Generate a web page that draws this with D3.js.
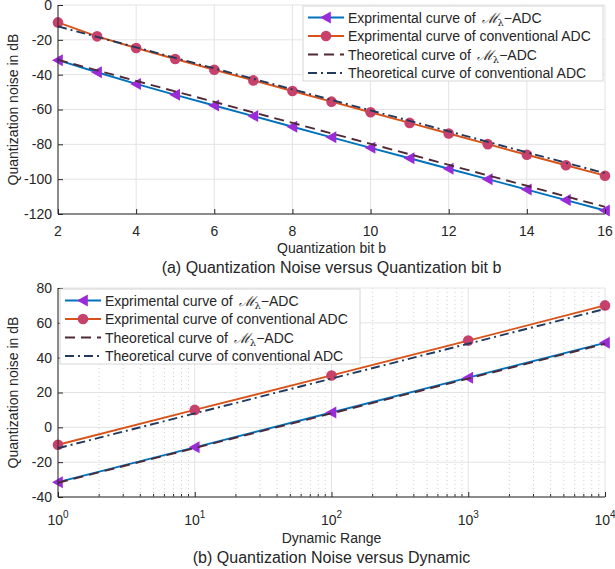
<!DOCTYPE html>
<html>
<head>
<meta charset="utf-8">
<script src="https://cdn.jsdelivr.net/npm/d3@7"></script>
<style>
  body { margin: 0; background: #fff; }
  text { font-family: "Liberation Sans", Arial, sans-serif; fill: #262626; }
</style>
</head>
<body>
<div id="chart-area"></div>
<script>
// Panel (a): noise vs quantization bit
var bits = [2, 3, 4, 5, 6, 7, 8, 9, 10, 11, 12, 13, 14, 15, 16];
var expM_a = [-31.7, -38.6, -45.3, -51.6, -57.7, -63.8, -69.9, -76.0, -82.0, -88.0, -94.0, -100.0, -106.0, -112.0, -118.0];
var expConv_a = [-10.0, -18.0, -24.7, -31.0, -37.2, -43.3, -49.4, -55.5, -61.6, -67.7, -73.8, -79.9, -86.0, -92.0, -98.0];
var theoM_a = [-31.5, -37.5, -43.6, -49.6, -55.6, -61.7, -67.7, -73.7, -79.7, -85.7, -91.8, -97.8, -103.8, -109.9, -115.9];
var theoConv_a = [-12.3, -18.3, -24.3, -30.4, -36.4, -42.4, -48.4, -54.5, -60.5, -66.5, -72.5, -78.6, -84.6, -90.6, -96.6];
var xTicks_a = [2, 4, 6, 8, 10, 12, 14, 16];
var yTicks_a = [0, -20, -40, -60, -80, -100, -120];

// Panel (b): noise vs dynamic range
var ranges = [1, 10, 100, 1000, 10000];
var expM_b = [-31.5, -11.5, 8.5, 28.5, 48.5];
var expConv_b = [-10.0, 10.0, 29.8, 49.8, 70.0];
var theoM_b = [-31.8, -11.9, 8.0, 28.0, 48.0];
var theoConv_b = [-12.0, 8.0, 28.0, 48.0, 68.0];
var xTicks_b = [1, 10, 100, 1000, 10000];
var yTicks_b = [80, 60, 40, 20, 0, -20, -40];

var legendLabels = [
    ["Exprimental curve of ", true],
    ["Exprimental curve of conventional ADC", false],
    ["Theoretical curve of ", true],
    ["Theoretical curve of conventional ADC", false]
];

var colBlue = "#0072BD", colOrange = "#D95319",
    colTri = "#9B2BD6", colDot = "#C8416B",
    colDash = "#4F2A36", colDashDot = "#213A5E",
    axisCol = "#262626", gridCol = "#e3e3e3";

var svg = d3.select("#chart-area")
    .append("svg")
    .attr("width", 615)
    .attr("height", 569);

function triangle(g, x, y) {
    var s = 6;
    g.append("path")
        .attr("d", "M" + (x - s) + "," + y + "L" + (x + s * 0.8) + "," + (y - s) + "L" + (x + s * 0.8) + "," + (y + s) + "Z")
        .attr("fill", colTri);
}

function dot(g, x, y) {
    g.append("circle")
        .attr("cx", x).attr("cy", y).attr("r", 5.3)
        .attr("fill", colDot);
}

// series: [values, color, dash, marker]
function drawPanel(box, x, y, xs, series, xTicks, yTicks, isLog) {
    var g = svg.append("g");

    // minor grid (log only)
    if (isLog) {
        var minors = [];
        xTicks.slice(0, -1).forEach(function(d){
            for (var k = 2; k <= 9; k++) minors.push(d * k);
        });
        g.selectAll(".mgrid").data(minors).enter().append("line")
            .attr("x1", function(d){ return x(d); }).attr("x2", function(d){ return x(d); })
            .attr("y1", box.top).attr("y2", box.bottom)
            .attr("stroke", "#d0d0d0").attr("stroke-width", 1)
            .attr("stroke-dasharray", "1,3");
        g.selectAll(".mtick").data(minors).enter().append("line")
            .attr("x1", function(d){ return x(d); }).attr("x2", function(d){ return x(d); })
            .attr("y1", box.bottom).attr("y2", box.bottom - 3)
            .attr("stroke", axisCol);
    }

    // major grid
    g.selectAll(".vgrid").data(xTicks).enter().append("line")
        .attr("x1", function(d){ return x(d); }).attr("x2", function(d){ return x(d); })
        .attr("y1", box.top).attr("y2", box.bottom)
        .attr("stroke", gridCol);
    g.selectAll(".hgrid").data(yTicks).enter().append("line")
        .attr("x1", box.left).attr("x2", box.right)
        .attr("y1", function(d){ return y(d); }).attr("y2", function(d){ return y(d); })
        .attr("stroke", gridCol);

    // curves
    series.forEach(function(s){
        var line = d3.line()
            .x(function(d, i){ return x(xs[i]); })
            .y(function(d){ return y(d); });
        g.append("path")
            .datum(s[0])
            .attr("d", line)
            .attr("fill", "none")
            .attr("stroke", s[1])
            .attr("stroke-width", 1.9)
            .attr("stroke-dasharray", s[2]);
        if (s[3] === "tri") s[0].forEach(function(d, i){ triangle(g, x(xs[i]), y(d)); });
        if (s[3] === "dot") s[0].forEach(function(d, i){ dot(g, x(xs[i]), y(d)); });
    });

    // axes
    var xAxis = d3.axisBottom(x).tickValues(xTicks).tickSize(-5).tickPadding(10).tickFormat("");
    var yAxis = d3.axisLeft(y).tickValues(yTicks).tickSize(-5).tickPadding(4)
        .tickFormat(function(d){ return d < 0 ? "-" + Math.abs(d) : d; });

    var xg = g.append("g")
        .attr("transform", "translate(0," + box.bottom + ")")
        .call(xAxis);
    var yg = g.append("g")
        .attr("transform", "translate(" + box.left + ",0)")
        .call(yAxis);
    [xg, yg].forEach(function(a){
        a.select(".domain").attr("stroke", axisCol).attr("d",
            a === xg ? "M" + box.left + ",0H" + box.right : "M0," + box.top + "V" + box.bottom);
        a.selectAll(".tick line").attr("stroke", axisCol);
        a.selectAll("text").style("font-size", "14px").attr("fill", axisCol)
            .style("font-family", "Liberation Sans, Arial, sans-serif");
    });
    yg.selectAll(".tick text").attr("x", -6);

    // x tick labels
    xTicks.forEach(function(d){
        var t = g.append("text")
            .attr("x", x(d))
            .attr("y", box.bottom + (isLog ? 28 : 22))
            .attr("text-anchor", "middle")
            .style("font-size", "14px");
        if (isLog) {
            t.append("tspan").text("10");
            t.append("tspan").attr("dy", -7).style("font-size", "10px").text(Math.round(Math.log10(d)));
        } else {
            t.text(d);
        }
    });
    return g;
}

function drawLegend(lg) {
    var g = svg.append("g");
    g.append("rect")
        .attr("x", lg.x).attr("y", lg.y)
        .attr("width", lg.w).attr("height", lg.h)
        .attr("fill", "#fff").attr("stroke", "#d6d6d6");
    var styles = [[colBlue, null, "tri"], [colOrange, null, "dot"], [colDash, "10,6", null], [colDashDot, "9,4,2,4", null]];
    legendLabels.forEach(function(l, i){
        var cy = lg.y + 11.5 + i * 18.5;
        g.append("line")
            .attr("x1", lg.x + 5).attr("x2", lg.x + 41)
            .attr("y1", cy).attr("y2", cy)
            .attr("stroke", styles[i][0]).attr("stroke-width", 1.9)
            .attr("stroke-dasharray", styles[i][1]);
        if (styles[i][2] === "tri") triangle(g, lg.x + 23, cy);
        if (styles[i][2] === "dot") dot(g, lg.x + 23, cy);
        var t = g.append("text")
            .attr("x", lg.x + 45).attr("y", cy + 5)
            .style("font-size", "14px")
            .text(l[0]);
        if (l[1]) {
            t.append("tspan").attr("dx", 2)
                .style("font-family", "DejaVu Serif, serif").style("font-style", "italic")
                .text("\u2133");
            t.append("tspan").attr("dy", 3).style("font-size", "10px")
                .style("font-family", "DejaVu Serif, serif").text("\u03BB");
            t.append("tspan").attr("dy", -3).text("\u2212ADC");
        }
    });
}

function labels(box, xLabel, caption, offs) {
    var cx = (box.left + box.right) / 2;
    svg.append("text")
        .attr("x", cx)
        .attr("y", box.bottom + offs[0])
        .attr("text-anchor", "middle")
        .style("font-size", "14px")
        .text(xLabel);
    svg.append("text")
        .attr("x", cx)
        .attr("y", box.bottom + offs[1])
        .attr("text-anchor", "middle")
        .style("font-size", "16px")
        .attr("fill", "#111")
        .text(caption);
    svg.append("text")
        .attr("transform", "translate(18," + (box.top + box.bottom) / 2 + ") rotate(-90)")
        .attr("text-anchor", "middle")
        .style("font-size", "14px")
        .text("Quantization noise in dB");
}

// Panel (a)
var boxA = { left: 58, right: 605, top: 5, bottom: 214 };
var xA = d3.scaleLinear().domain([2, 16]).range([boxA.left, boxA.right]);
var yA = d3.scaleLinear().domain([-120, 0]).range([boxA.bottom, boxA.top]);
drawPanel(boxA, xA, yA, bits, [
    [expM_a, colBlue, null, "tri"],
    [expConv_a, colOrange, null, "dot"],
    [theoM_a, colDash, "10,6", null],
    [theoConv_a, colDashDot, "9,4,2,4", null]
], xTicks_a, yTicks_a, false);
labels(boxA, "Quantization bit b", "(a) Quantization Noise versus Quantization bit b", [39, 59]);
drawLegend({ x: 303, y: 6, w: 300, h: 75 });

// Panel (b)
var boxB = { left: 58, right: 605, top: 288, bottom: 497 };
var xB = d3.scaleLog().domain([1, 10000]).range([boxB.left, boxB.right]);
var yB = d3.scaleLinear().domain([-40, 80]).range([boxB.bottom, boxB.top]);
drawPanel(boxB, xB, yB, ranges, [
    [expM_b, colBlue, null, "tri"],
    [expConv_b, colOrange, null, "dot"],
    [theoM_b, colDash, "10,6", null],
    [theoConv_b, colDashDot, "9,4,2,4", null]
], xTicks_b, yTicks_b, true);
labels(boxB, "Dynamic Range", "(b) Quantization Noise versus Dynamic", [46, 66]);
drawLegend({ x: 60, y: 289, w: 300, h: 75 });
</script>
</body>
</html>
